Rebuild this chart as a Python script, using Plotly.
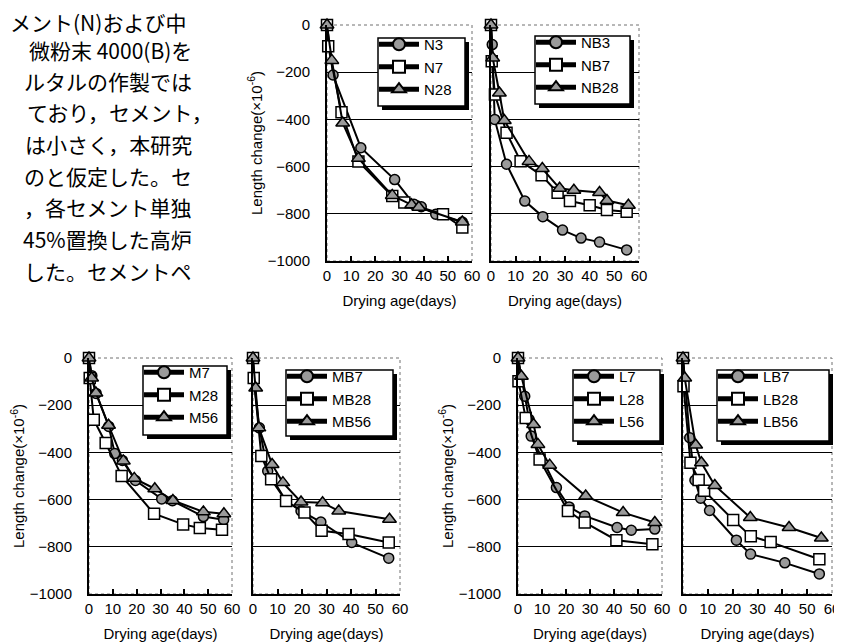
import plotly.graph_objects as go

W, H = 842, 644

# ---------------- data ----------------
N3_days = [0, 2.5, 14, 28, 36, 39, 45, 56]
N3_vals = [0, -212, -520, -655, -760, -770, -802, -835]
N7_days = [0, 0.5, 6, 13, 27, 32, 48, 56]
N7_vals = [0, -90, -370, -578, -725, -752, -802, -858]
N28_days = [0, 2, 6.5, 13, 27, 35, 38, 56]
N28_vals = [0, -150, -415, -565, -722, -762, -772, -835]

NB3_days = [0, 0.5, 1.5, 6.3, 13.7, 21, 29, 36.5, 44, 55]
NB3_vals = [0, -83, -400, -590, -746, -812, -869, -903, -920, -953]
NB7_days = [0, 0.3, 1.6, 6.3, 12, 20.5, 27, 32, 40, 47, 55]
NB7_vals = [0, -154, -295, -457, -577, -637, -711, -746, -764, -784, -791]
NB28_days = [0, 0.7, 3.4, 5.4, 15.4, 20.8, 27.8, 33.6, 44, 47, 55.7]
NB28_vals = [0, -140, -288, -405, -578, -608, -692, -700, -710, -744, -764]

M7_days = [0, 1.2, 3, 8.3, 10.8, 14, 19.5, 30.5, 35, 48, 56.5]
M7_vals = [0, -75, -150, -290, -405, -434, -519, -597, -605, -672, -685]
M28_days = [0, 0.3, 2, 7, 13.7, 27.3, 39.5, 46.5, 55.8]
M28_vals = [0, -85, -262, -360, -500, -660, -705, -720, -728]
M56_days = [0, 1.1, 2.9, 8.2, 14.4, 19, 27.6, 35.2, 48, 56.6]
M56_vals = [0, -85, -148, -285, -436, -510, -554, -604, -652, -660]

MB7_days = [0, 0.3, 2.6, 6, 13.5, 19.6, 27.7, 40.3, 55.4]
MB7_vals = [0, -90, -296, -479, -606, -648, -695, -782, -848]
MB28_days = [0, 0.3, 3.4, 7.4, 13.5, 21, 28, 39, 55.4]
MB28_vals = [0, -85, -415, -514, -606, -655, -732, -746, -782]
MB56_days = [0, 1.1, 2.4, 7.8, 12.2, 19.6, 28.4, 35, 55.7]
MB56_vals = [0, -127, -296, -451, -528, -610, -613, -648, -683]

L7_days = [0, 2.8, 4.6, 5.5, 16, 21.3, 27.8, 41.3, 47.2, 57]
L7_vals = [0, -162, -260, -331, -549, -631, -669, -718, -730, -725]
L28_days = [0, 0.2, 3.2, 9, 20.8, 27.8, 41, 56]
L28_vals = [0, -99, -254, -430, -648, -697, -772, -789]
L56_days = [0, 1.4, 6.5, 8.3, 13.2, 28.2, 43.8, 57]
L56_vals = [0, -77, -282, -366, -454, -585, -655, -697]

LB7_days = [0, 2.7, 4.8, 7.1, 10.7, 21.5, 27.2, 41, 54.9]
LB7_vals = [0, -338, -518, -594, -646, -772, -831, -868, -915]
LB28_days = [0, 0.2, 3, 6.3, 8.5, 20.2, 27.3, 35.3, 54.9]
LB28_vals = [0, -120, -444, -517, -562, -686, -755, -780, -853]
LB56_days = [0, 0.7, 5.1, 7.4, 12.8, 27.1, 42.7, 55.7]
LB56_vals = [0, -85, -369, -444, -540, -676, -718, -763]

X_TICKS = [0, 10, 20, 30, 40, 50, 60]
Y_TICKS = [0, -200, -400, -600, -800, -1000]
Y_GRID = [-200, -400, -600, -800]
X_TITLE = "Drying age(days)"
Y_TITLE = "Length change(×10<sup>-6</sup>)"

TEXT_LINES = [
    "メント(N)および中",
    "微粉末 4000(B)を",
    "ルタルの作製では",
    "ており，セメント，",
    "は小さく，本研究",
    "のと仮定した。セ",
    "，各セメント単独",
    "45%置換した高炉",
    "した。セメントペ",
]

# ---------------- styles / layout ----------------
FONT = "Liberation Sans, Arial, sans-serif"
JFONT = "Noto Sans CJK JP"
GRAY = "#9a9a9a"
MARK = {
    "circle": dict(symbol="circle", size=10, color=GRAY, line=dict(color="black", width=1.5)),
    "square": dict(symbol="square", size=11, color="white", line=dict(color="black", width=1.5)),
    "tri": dict(symbol="triangle-up", size=12, color=GRAY, line=dict(color="black", width=1.5)),
}

panels = [
    dict(box=(319, 464, 17, 253), left=True, leg=(370, 457, 30, 98),
         series=[("N3", N3_days, N3_vals, "circle"), ("N7", N7_days, N7_vals, "square"),
                 ("N28", N28_days, N28_vals, "tri")]),
    dict(box=(483, 631, 17, 253), left=False, leg=(527, 622, 28, 96),
         series=[("NB3", NB3_days, NB3_vals, "circle"), ("NB7", NB7_days, NB7_vals, "square"),
                 ("NB28", NB28_days, NB28_vals, "tri")]),
    dict(box=(81, 224, 350, 586), left=True, leg=(135, 219, 358, 427),
         series=[("M7", M7_days, M7_vals, "circle"), ("M28", M28_days, M28_vals, "square"),
                 ("M56", M56_days, M56_vals, "tri")]),
    dict(box=(245, 392, 350, 586), left=False, leg=(278, 385, 362, 428),
         series=[("MB7", MB7_days, MB7_vals, "circle"), ("MB28", MB28_days, MB28_vals, "square"),
                 ("MB56", MB56_days, MB56_vals, "tri")]),
    dict(box=(510, 654, 350, 586), left=True, leg=(565, 652, 362, 433),
         series=[("L7", L7_days, L7_vals, "circle"), ("L28", L28_days, L28_vals, "square"),
                 ("L56", L56_days, L56_vals, "tri")]),
    dict(box=(675, 824, 350, 586), left=False, leg=(709, 821, 362, 433),
         series=[("LB7", LB7_days, LB7_vals, "circle"), ("LB28", LB28_days, LB28_vals, "square"),
                 ("LB56", LB56_days, LB56_vals, "tri")]),
]

# anchor point (px) and horizontal anchor of each text line (vertically centred)
text_pos = [(1, 14, "left"), (185, 42, "right"), (185, 73, "right"),
            (206, 104, "right"), (185, 136, "right"), (185, 168, "right"),
            (185, 199, "right"), (185, 231, "right"), (185, 263, "right")]


def px(x):
    return x / W


def py(y):
    return 1 - y / H


fig = go.Figure()
layout = dict(width=W, height=H, margin=dict(l=0, r=0, t=0, b=0, autoexpand=False),
              paper_bgcolor="white", plot_bgcolor="white", showlegend=True,
              font=dict(family=FONT, size=15, color="black"))
shapes = []
annotations = []

for i, p in enumerate(panels, start=1):
    sfx = "" if i == 1 else str(i)
    xa, ya = "x" + sfx, "y" + sfx
    legname = "legend" + sfx
    x0, x1, y0, y1 = p["box"]
    for name, xs, ys, m in p["series"]:
        fig.add_trace(go.Scatter(x=xs, y=ys, name=name, mode="lines+markers",
                                 line=dict(color="black", width=2), marker=MARK[m],
                                 xaxis=xa, yaxis=ya, legend=legname, cliponaxis=False))
    layout["xaxis" + sfx] = dict(
        domain=[px(x0), px(x1)], anchor=ya, range=[0, 60], tickvals=X_TICKS, automargin=False,
        ticks="inside", ticklen=5, tickwidth=1.5, tickcolor="black",
        showline=True, linecolor="black", linewidth=2, showgrid=False, zeroline=False,
        tickfont=dict(size=15, family=FONT, color="black"), ticklabelstandoff=0,
        title=dict(text=X_TITLE, font=dict(size=15, family=FONT, color="black"), standoff=12),
    )
    yax = dict(
        domain=[py(y1), py(y0)], anchor=xa, range=[-1000, 0], tickvals=Y_TICKS, automargin=False,
        ticks="", showticklabels=p["left"], showline=True, linecolor="black", linewidth=2,
        showgrid=False, zeroline=False,
        minor=dict(tickmode="array", tickvals=Y_GRID, showgrid=True, gridcolor="black", gridwidth=1.2, ticks=""),
        tickfont=dict(size=15, family=FONT, color="black"), ticklabelstandoff=12,
    )
    if p["left"]:
        yax["title"] = dict(text=Y_TITLE, font=dict(size=15, family=FONT, color="black"), standoff=2)
    layout["yaxis" + sfx] = yax
    # dotted frame top/right
    shapes.append(dict(type="rect", xref=xa + " domain", yref=ya + " domain", x0=0, x1=1, y0=0, y1=1,
                       line=dict(color="#707070", width=1, dash="dot"), layer="below"))
    # legend box with drop shadow
    lx0, lx1, ly0, ly1 = p["leg"]
    shapes.append(dict(type="rect", xref="paper", yref="paper", x0=px(lx0 + 4), x1=px(lx1 + 4),
                       y0=py(ly1 + 4), y1=py(ly0 + 4), fillcolor="black", line=dict(width=0), layer="above"))
    shapes.append(dict(type="rect", xref="paper", yref="paper", x0=px(lx0), x1=px(lx1),
                       y0=py(ly1), y1=py(ly0), fillcolor="white", line=dict(color="black", width=1.5), layer="above"))
    layout[legname] = dict(x=px(lx0 - 4), y=py(ly0 - 10), xanchor="left", yanchor="top",
                           bgcolor="rgba(0,0,0,0)", borderwidth=0, itemwidth=40, tracegroupgap=0,
                           font=dict(size=15, family=FONT, color="black"), itemsizing="constant")

for (t, (tx, ty, xan)) in zip(TEXT_LINES, text_pos):
    annotations.append(dict(text=t, xref="paper", yref="paper", x=px(tx), y=py(ty),
                            xanchor=xan, yanchor="middle", align=xan, showarrow=False, borderpad=0,
                            font=dict(family=JFONT, size=21, color="black")))

layout["shapes"] = shapes
layout["annotations"] = annotations
fig.update_layout(**layout)
fig.write_html("out.html")
